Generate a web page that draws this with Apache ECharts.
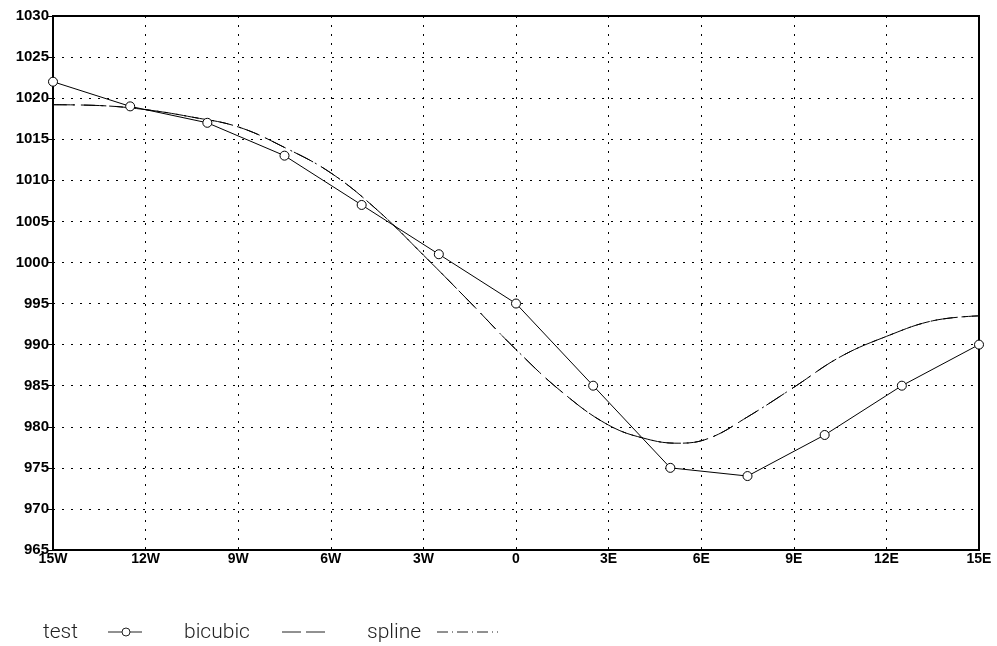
<!DOCTYPE html>
<html>
<head>
<meta charset="utf-8">
<script src="https://cdn.jsdelivr.net/npm/echarts@6/dist/echarts.min.js"></script>
<style>
  html, body { margin: 0; padding: 0; background: #fff; }
  #main { width: 997px; height: 646px; }
</style>
</head>
<body>
<div id="main"></div>
<script>
// station values, every 2.5 deg
var testLon = [-15, -12.5, -10, -7.5, -5, -2.5, 0, 2.5, 5, 7.5, 10, 12.5, 15];
var testVal = [1022, 1019, 1017, 1013, 1007, 1001, 995, 985, 975, 974, 979, 985, 990];

// interpolated curves
var curveLon = [-15, -13.5, -12, -10.5, -9, -7.5, -6, -4.5, -3, -1.5, 0, 1.5, 3, 4.25, 5.25, 6.25, 7.5, 9, 10.5, 12, 13.5, 15];
var bicubicVal = [1019.2, 1019.1, 1018.6, 1017.7, 1016.5, 1014.0, 1010.9, 1006.4, 1000.9, 995.2, 989.4, 984.2, 980.2, 978.5, 978.0, 978.6, 981.2, 984.8, 988.5, 991.0, 992.9, 993.5];
var splineVal = [1019.2, 1019.1, 1018.6, 1017.7, 1016.5, 1014.0, 1010.9, 1006.4, 1000.9, 995.2, 989.4, 984.2, 980.2, 978.5, 978.0, 978.6, 981.2, 984.8, 988.5, 991.0, 992.9, 993.5];

var legendNames = ['test', 'bicubic', 'spline'];

function pairs(xs, ys) {
  var out = [];
  for (var i = 0; i < xs.length; i++) out.push([xs[i], ys[i]]);
  return out;
}

function lonLabel(v) {
  if (v < 0) return (-v) + 'W';
  if (v > 0) return v + 'E';
  return '0';
}

var chart = echarts.init(document.getElementById('main'));

var legendFont = { fontFamily: 'Roboto', fontWeight: 300, fontSize: 21, fill: '#222' };
var ly = 632;

var option = {
  animation: false,
  backgroundColor: '#fff',
  grid: {
    left: 53, right: 18, top: 16, bottom: 96,
    show: true, borderColor: '#000', borderWidth: 2
  },
  xAxis: {
    type: 'value', min: -15, max: 15, interval: 3,
    axisLine: { show: true, onZero: false, lineStyle: { color: '#000', width: 2 } },
    axisTick: { show: false },
    axisLabel: {
      formatter: lonLabel, color: '#000', margin: 2,
      fontFamily: 'Liberation Sans', fontWeight: 'bold', fontSize: 14
    },
    splitLine: { show: true, lineStyle: { color: '#000', width: 1, type: [2, 7] } }
  },
  yAxis: {
    type: 'value', min: 965, max: 1030, interval: 5,
    axisLine: { show: true, onZero: false, lineStyle: { color: '#000', width: 2 } },
    axisTick: { show: true, length: 5, lineStyle: { color: '#000', width: 1 } },
    axisLabel: {
      formatter: function (v) { return String(v); },
      color: '#000', margin: 4,
      fontFamily: 'Liberation Sans', fontWeight: 'bold', fontSize: 15
    },
    splitLine: { show: true, lineStyle: { color: '#000', width: 1, type: [2, 7] } }
  },
  graphic: [
    { type: 'text', left: 43, top: ly - 10, style: Object.assign({ text: legendNames[0] }, legendFont) },
    { type: 'line', shape: { x1: 108, y1: ly, x2: 142, y2: ly }, style: { stroke: '#222', lineWidth: 1 } },
    { type: 'circle', shape: { cx: 126, cy: ly, r: 4 }, style: { fill: '#fff', stroke: '#222', lineWidth: 1 } },
    { type: 'text', left: 184, top: ly - 10, style: Object.assign({ text: legendNames[1] }, legendFont) },
    { type: 'line', shape: { x1: 282, y1: ly, x2: 325, y2: ly }, style: { stroke: '#222', lineWidth: 1, lineDash: [19, 5] } },
    { type: 'text', left: 367, top: ly - 10, style: Object.assign({ text: legendNames[2] }, legendFont) },
    { type: 'line', shape: { x1: 437, y1: ly, x2: 498, y2: ly }, style: { stroke: '#222', lineWidth: 1, lineDash: [11, 4, 1, 4] } }
  ],
  series: [
    {
      name: 'test', type: 'line',
      data: pairs(testLon, testVal),
      symbol: 'circle', symbolSize: 9, showSymbol: true,
      itemStyle: { color: '#fff', borderColor: '#000', borderWidth: 1 },
      lineStyle: { color: '#000', width: 1 },
      z: 3
    },
    {
      name: 'bicubic', type: 'line',
      data: pairs(curveLon, bicubicVal),
      smooth: 0.4, symbol: 'none',
      lineStyle: { color: '#000', width: 1, type: [22, 9] }
    },
    {
      name: 'spline', type: 'line',
      data: pairs(curveLon, splineVal),
      smooth: 0.4, symbol: 'none',
      lineStyle: { color: '#000', width: 1, type: [14, 6, 2, 6] }
    }
  ]
};

chart.setOption(option);
</script>
</body>
</html>
